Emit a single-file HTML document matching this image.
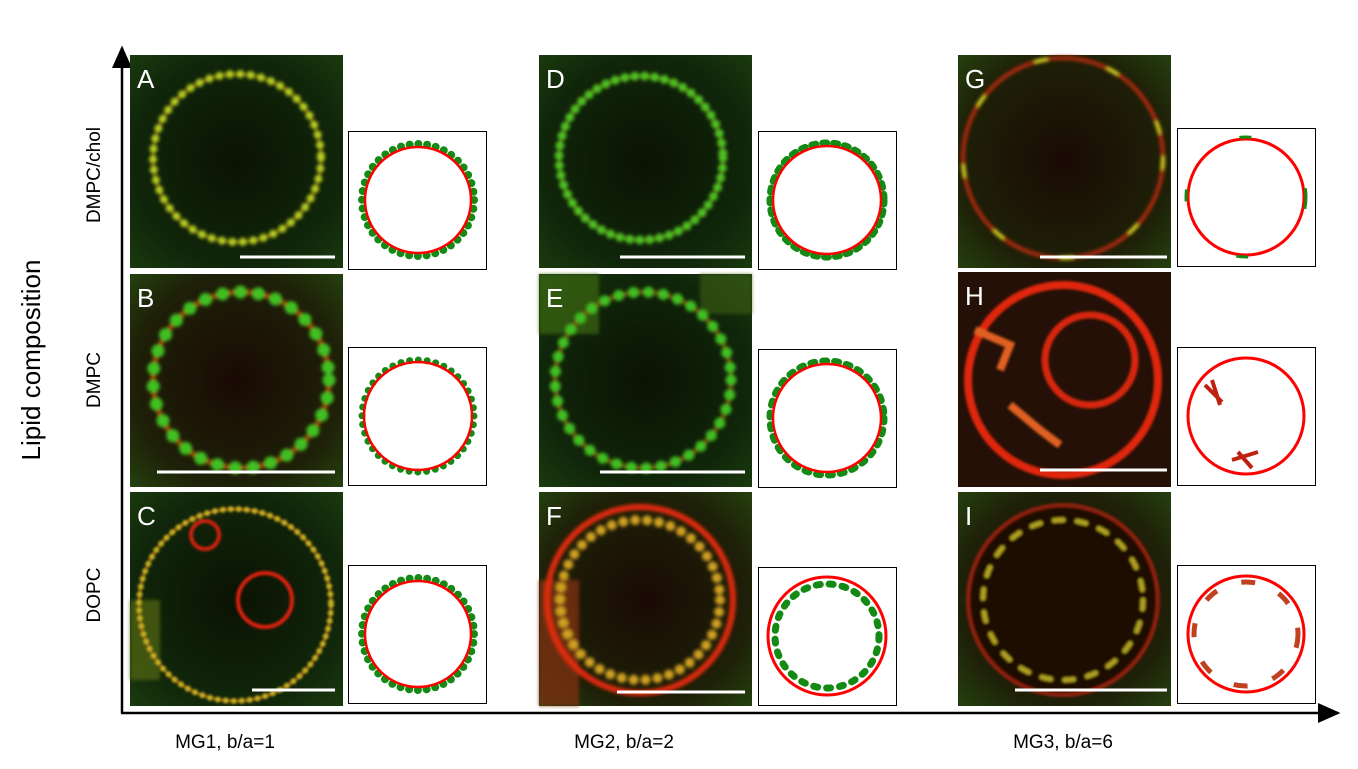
<!DOCTYPE html>
<html><head><meta charset="utf-8"><style>
html,body{margin:0;padding:0;background:#fff;}
svg{display:block}
text{font-family:"Liberation Sans",sans-serif;}
</style></head><body>
<svg width="1358" height="769" viewBox="0 0 1358 769" xmlns="http://www.w3.org/2000/svg">
<defs>
<radialGradient id="bg" cx="50%" cy="50%" r="70%">
<stop offset="0" stop-color="#0b1204"/><stop offset="0.7" stop-color="#10260a"/><stop offset="1" stop-color="#1a3a0e"/>
</radialGradient>
<radialGradient id="bgr" cx="50%" cy="50%" r="70%">
<stop offset="0" stop-color="#1a0a04"/><stop offset="0.7" stop-color="#1e2008"/><stop offset="1" stop-color="#24400e"/>
</radialGradient>
<filter id="bl" x="-20%" y="-20%" width="140%" height="140%"><feGaussianBlur stdDeviation="1.8"/></filter>
<filter id="bl2" x="-20%" y="-20%" width="140%" height="140%"><feGaussianBlur stdDeviation="1.2"/></filter>
<marker id="ah" markerWidth="10" markerHeight="10" refX="8" refY="5" orient="auto"><path d="M0,1 L9,5 L0,9 z" fill="#000"/></marker>
</defs>

<line x1="122" y1="713" x2="122" y2="48" stroke="#000" stroke-width="2.5" marker-end="url(#ah)"/>
<line x1="121" y1="713" x2="1338" y2="713" stroke="#000" stroke-width="2.5" marker-end="url(#ah)"/>
<text x="40" y="360" font-size="26" text-anchor="middle" transform="rotate(-90 40 360)">Lipid composition</text>
<text x="100" y="175" font-size="19" text-anchor="middle" transform="rotate(-90 100 175)">DMPC/chol</text>
<text x="100" y="380" font-size="19" text-anchor="middle" transform="rotate(-90 100 380)">DMPC</text>
<text x="100" y="595" font-size="19" text-anchor="middle" transform="rotate(-90 100 595)">DOPC</text>
<text x="225" y="748" font-size="19" text-anchor="middle">MG1, b/a=1</text>
<text x="624" y="748" font-size="19" text-anchor="middle">MG2, b/a=2</text>
<text x="1063" y="748" font-size="19" text-anchor="middle">MG3, b/a=6</text>

<!-- Panel A -->
<rect x="130" y="55" width="213" height="213" fill="url(#bg)"/>
<g filter="url(#bl)">
<circle cx="237" cy="158" r="84" fill="none" stroke="#9c4010" stroke-width="3"/>
<circle cx="237" cy="158" r="84" fill="none" stroke="#b8d020" stroke-width="8" stroke-dasharray="0 10.5" stroke-linecap="round"/>
</g>
<text x="137" y="88" font-size="26" fill="#fff">A</text>
<line x1="240" y1="257" x2="335" y2="257" stroke="#fff" stroke-width="3"/>

<!-- Panel B -->
<rect x="130" y="274" width="213" height="213" fill="url(#bgr)"/>
<g filter="url(#bl)">
<circle cx="241" cy="380" r="88" fill="none" stroke="#a03010" stroke-width="5"/>
<circle cx="241" cy="380" r="88" fill="none" stroke="#40c020" stroke-width="13" stroke-dasharray="0 18" stroke-linecap="round"/>
</g>
<text x="137" y="307" font-size="26" fill="#fff">B</text>
<line x1="157" y1="472" x2="335" y2="472" stroke="#fff" stroke-width="3"/>

<!-- Panel C -->
<rect x="130" y="492" width="213" height="214" fill="url(#bg)"/>
<g filter="url(#bl)"><rect x="130" y="600" width="30" height="80" fill="#556a10" opacity="0.7"/></g>
<g filter="url(#bl2)">
<circle cx="235" cy="605" r="96" fill="none" stroke="#a03a10" stroke-width="3"/>
<circle cx="235" cy="605" r="96" fill="none" stroke="#c8b020" stroke-width="6" stroke-dasharray="0 8" stroke-linecap="round"/>
<circle cx="205" cy="535" r="14" fill="none" stroke="#d02010" stroke-width="4"/>
<circle cx="265" cy="600" r="27" fill="none" stroke="#e02010" stroke-width="4"/>
</g>
<text x="137" y="525" font-size="26" fill="#fff">C</text>
<line x1="252" y1="690" x2="335" y2="690" stroke="#fff" stroke-width="3"/>

<!-- Panel D -->
<rect x="539" y="55" width="213" height="213" fill="url(#bg)"/>
<g filter="url(#bl)">
<circle cx="641" cy="158" r="82" fill="none" stroke="#7a6010" stroke-width="3"/>
<circle cx="641" cy="158" r="82" fill="none" stroke="#50c020" stroke-width="9" stroke-dasharray="0 10" stroke-linecap="round"/>
</g>
<text x="546" y="88" font-size="26" fill="#fff">D</text>
<line x1="620" y1="257" x2="745" y2="257" stroke="#fff" stroke-width="3"/>

<!-- Panel E -->
<rect x="539" y="274" width="213" height="213" fill="url(#bg)"/>
<g filter="url(#bl)">
<rect x="539" y="274" width="60" height="60" fill="#3a6a14" opacity="0.7"/>
<rect x="700" y="274" width="52" height="40" fill="#3a6014" opacity="0.6"/>
<circle cx="643" cy="380" r="88" fill="none" stroke="#803010" stroke-width="4"/>
<circle cx="643" cy="380" r="88" fill="none" stroke="#40c020" stroke-width="11" stroke-dasharray="0 15" stroke-linecap="round"/>
</g>
<text x="546" y="307" font-size="26" fill="#fff">E</text>
<line x1="600" y1="472" x2="745" y2="472" stroke="#fff" stroke-width="3"/>

<!-- Panel F -->
<rect x="539" y="492" width="213" height="214" fill="url(#bgr)"/>
<g filter="url(#bl)">
<rect x="539" y="580" width="40" height="126" fill="#7a3010" opacity="0.8"/>
<circle cx="640" cy="600" r="93" fill="none" stroke="#e02a10" stroke-width="6"/>
<circle cx="640" cy="600" r="80" fill="none" stroke="#d0a020" stroke-width="10" stroke-dasharray="0 12" stroke-linecap="round"/>
</g>
<text x="546" y="525" font-size="26" fill="#fff">F</text>
<line x1="617" y1="692" x2="745" y2="692" stroke="#fff" stroke-width="3"/>

<!-- Panel G -->
<rect x="958" y="55" width="213" height="213" fill="url(#bgr)"/>
<g filter="url(#bl)">
<circle cx="1063" cy="158" r="100" fill="none" stroke="#b02a10" stroke-width="4"/>
<circle cx="1063" cy="158" r="100" fill="none" stroke="#d8d020" stroke-width="4" stroke-dasharray="10 64" stroke-linecap="round"/>
</g>
<text x="965" y="88" font-size="26" fill="#fff">G</text>
<line x1="1040" y1="257" x2="1167" y2="257" stroke="#fff" stroke-width="3"/>

<!-- Panel H -->
<rect x="958" y="272" width="213" height="215" fill="#241006"/>
<g filter="url(#bl2)">
<circle cx="1063" cy="380" r="95" fill="none" stroke="#e02810" stroke-width="8"/>
<circle cx="1090" cy="360" r="45" fill="none" stroke="#d82810" stroke-width="7"/>
<path d="M975,330 L1010,345 L1000,370" stroke="#e06020" stroke-width="8" fill="none"/>
<path d="M1010,405 L1040,430 L1060,445" stroke="#e06020" stroke-width="8" fill="none"/>
</g>
<text x="965" y="305" font-size="26" fill="#fff">H</text>
<line x1="1040" y1="470" x2="1167" y2="470" stroke="#fff" stroke-width="3"/>

<!-- Panel I -->
<rect x="958" y="492" width="213" height="214" fill="url(#bgr)"/>
<g filter="url(#bl2)">
<circle cx="1063" cy="600" r="95" fill="#1a0804" stroke="#902010" stroke-width="4"/>
<circle cx="1063" cy="600" r="80" fill="none" stroke="#b0a020" stroke-width="5" stroke-dasharray="9 14" stroke-linecap="round"/>
</g>
<text x="965" y="525" font-size="26" fill="#fff">I</text>
<line x1="1015" y1="690" x2="1167" y2="690" stroke="#fff" stroke-width="3"/>

<!-- Schematics -->
<g stroke="#000" stroke-width="1" fill="#fff">
<rect x="348.5" y="131.5" width="138" height="138"/>
<rect x="348.5" y="347.5" width="138" height="138"/>
<rect x="348.5" y="565.5" width="138" height="138"/>
<rect x="758.5" y="131.5" width="138" height="138"/>
<rect x="758.5" y="349.5" width="138" height="138"/>
<rect x="758.5" y="567.5" width="138" height="138"/>
<rect x="1177.5" y="128.5" width="138" height="138"/>
<rect x="1177.5" y="347.5" width="138" height="138"/>
<rect x="1177.5" y="565.5" width="138" height="138"/>
</g>
<g fill="none">
<circle cx="418" cy="200" r="56" stroke="#138a13" stroke-width="8" stroke-dasharray="0 8.8" stroke-linecap="round"/>
<circle cx="418" cy="200" r="53" stroke="#f00" stroke-width="2.5"/>
<circle cx="418" cy="416" r="56" stroke="#138a13" stroke-width="7" stroke-dasharray="0 8.8" stroke-linecap="round"/>
<circle cx="418" cy="416" r="54" stroke="#f00" stroke-width="2.5"/>
<circle cx="418" cy="634" r="56" stroke="#138a13" stroke-width="8" stroke-dasharray="0 8.8" stroke-linecap="round"/>
<circle cx="418" cy="634" r="53" stroke="#f00" stroke-width="2.5"/>
<circle cx="827" cy="200" r="57" stroke="#138a13" stroke-width="7" stroke-dasharray="4 7" stroke-linecap="round"/>
<circle cx="827" cy="200" r="54" stroke="#f00" stroke-width="2.5"/>
<circle cx="827" cy="418" r="57" stroke="#138a13" stroke-width="7" stroke-dasharray="4 8" stroke-linecap="round"/>
<circle cx="827" cy="418" r="54" stroke="#f00" stroke-width="2.5"/>
<circle cx="827" cy="636" r="52" stroke="#138a13" stroke-width="7" stroke-dasharray="4 9" stroke-linecap="round"/>
<circle cx="827" cy="636" r="59" stroke="#f00" stroke-width="3"/>
<circle cx="1246" cy="197" r="58" stroke="#f00" stroke-width="3"/>
<circle cx="1246" cy="197" r="60" stroke="#138a13" stroke-width="3" stroke-dasharray="12 80"/>
<circle cx="1246" cy="416" r="58" stroke="#f00" stroke-width="3"/>
<path d="M1205,385 L1222,402 M1212,380 L1220,405 M1232,460 L1258,452 M1238,452 L1252,468" stroke="#c02010" stroke-width="4"/>
<circle cx="1246" cy="634" r="58" stroke="#f00" stroke-width="3"/>
<circle cx="1246" cy="634" r="52" stroke="#c04020" stroke-width="5" stroke-dasharray="14 26"/>
</g>
</svg>
</body></html>
